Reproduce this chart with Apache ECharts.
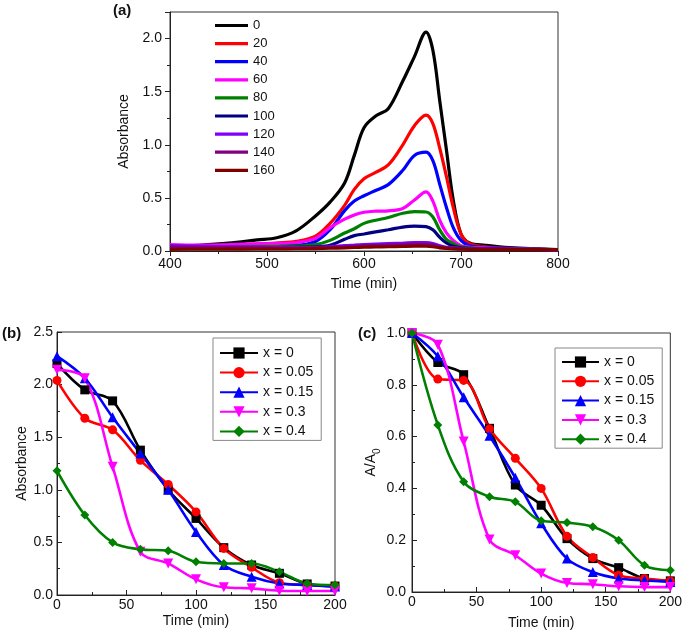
<!DOCTYPE html>
<html><head><meta charset="utf-8">
<script src="https://cdn.jsdelivr.net/npm/echarts@6/dist/echarts.min.js"></script>
<style>html,body{margin:0;padding:0;background:#fff}#c{width:685px;height:639px}</style>
</head><body><div id="c"></div>
<script>
// ---- Panel (a): spectra ----
var wavelengths = [400,430,460,490,510,530,550,565,580,590,600,612,625,640,652,664,671,678,685,692,700,709,725,750,800];
var specNames = ['0','20','40','60','80','100','120','140','160'];
var specColors = ['#000000','#ff0000','#0000ff','#ff00ff','#008000','#000080','#8000ff','#800080','#800000'];
var spec0   = [0.038,0.054,0.075,0.105,0.125,0.19,0.33,0.46,0.64,0.90,1.16,1.27,1.34,1.60,1.83,2.06,1.89,1.42,0.95,0.48,0.16,0.075,0.054,0.032,0.013];
var spec20  = [0.047,0.050,0.055,0.065,0.075,0.090,0.14,0.26,0.43,0.58,0.68,0.74,0.81,1.00,1.18,1.28,1.20,0.97,0.70,0.41,0.16,0.068,0.040,0.025,0.012];
var spec40  = [0.045,0.045,0.045,0.050,0.052,0.055,0.09,0.20,0.38,0.47,0.52,0.57,0.625,0.76,0.90,0.93,0.85,0.63,0.41,0.22,0.10,0.050,0.035,0.025,0.012];
var spec60  = [0.060,0.055,0.060,0.068,0.072,0.080,0.12,0.22,0.30,0.34,0.365,0.375,0.378,0.40,0.48,0.556,0.47,0.29,0.17,0.10,0.05,0.035,0.030,0.022,0.012];
var spec80  = [0.035,0.035,0.037,0.040,0.042,0.045,0.06,0.10,0.17,0.21,0.26,0.29,0.315,0.355,0.37,0.367,0.32,0.20,0.11,0.07,0.04,0.030,0.025,0.020,0.012];
var spec100 = [0.030,0.030,0.030,0.032,0.033,0.035,0.04,0.054,0.11,0.145,0.16,0.18,0.20,0.225,0.235,0.23,0.20,0.13,0.075,0.045,0.03,0.025,0.022,0.018,0.012];
var spec120 = [0.050,0.045,0.040,0.035,0.032,0.032,0.035,0.040,0.050,0.055,0.060,0.065,0.070,0.075,0.080,0.078,0.070,0.050,0.035,0.030,0.025,0.022,0.020,0.018,0.012];
var spec140 = [0.040,0.036,0.033,0.030,0.028,0.028,0.030,0.034,0.040,0.044,0.048,0.052,0.056,0.060,0.064,0.063,0.057,0.042,0.030,0.026,0.022,0.020,0.018,0.016,0.012];
var spec160 = [0.016,0.017,0.018,0.019,0.020,0.021,0.023,0.026,0.030,0.033,0.036,0.038,0.040,0.043,0.045,0.045,0.040,0.030,0.024,0.020,0.018,0.016,0.015,0.014,0.013];
var specData = [spec0,spec20,spec40,spec60,spec80,spec100,spec120,spec140,spec160];

// ---- Panels (b) and (c): kinetics ----
var times = [0,20,40,60,80,100,120,140,160,180,200];
var kinNames = ['x = 0','x = 0.05','x = 0.15','x = 0.3','x = 0.4'];
var kinColors = ['#000000','#ff0000','#0000ff','#ff00ff','#008000'];
var kinSymbols = ['rect','circle','triangle','path://M0,0 L10,0 L5,9 Z','diamond'];
var absX0   = [2.20,1.95,1.845,1.377,1.00,0.728,0.45,0.285,0.206,0.105,0.085];
var absX005 = [2.04,1.68,1.57,1.28,1.05,0.79,0.443,0.263,0.117,0.095,0.085];
var absX015 = [2.27,2.06,1.69,1.345,1.00,0.60,0.285,0.174,0.11,0.095,0.08];
var absX03  = [2.14,2.06,1.22,0.41,0.30,0.149,0.073,0.063,0.041,0.038,0.038];
var absX04  = [1.18,0.76,0.50,0.434,0.42,0.316,0.30,0.30,0.22,0.11,0.095];
var absData = [absX0,absX005,absX015,absX03,absX04];
var relX0   = [1.0,0.886,0.839,0.632,0.413,0.335,0.206,0.129,0.094,0.052,0.043];
var relX005 = [1.0,0.822,0.817,0.63,0.516,0.40,0.215,0.133,0.065,0.052,0.043];
var relX015 = [1.0,0.91,0.752,0.603,0.441,0.265,0.129,0.077,0.052,0.045,0.039];
var relX03  = [1.0,0.955,0.581,0.203,0.142,0.071,0.035,0.03,0.022,0.019,0.019];
var relX04  = [1.0,0.645,0.426,0.368,0.348,0.275,0.268,0.252,0.20,0.103,0.084];
var relData = [relX0,relX005,relX015,relX03,relX04];

var FONT = 'Arial, "Liberation Sans", sans-serif';
function pairs(xs, ys){ return xs.map(function(x,i){ return [x, ys[i]]; }); }
function fmt1(v){ return v.toFixed(1); }

var grids = [
  {left:170, top:12, width:388, height:239, show:true, borderColor:'#333', borderWidth:1},
  {left:57, top:332, width:278, height:263, show:true, borderColor:'#333', borderWidth:1},
  {left:412, top:333, width:261, height:259, show:true, borderColor:'#333', borderWidth:1}
];
function xAx(gi, min, max, interval, inside, name, gap, margin){
  return {type:'value', gridIndex:gi, min:min, max:max, interval:interval,
    name:name, nameLocation:'middle', nameGap:gap,
    nameTextStyle:{fontFamily:FONT, fontSize:14, color:'#111'},
    axisLine:{lineStyle:{color:'#222', width:1}},
    axisTick:{inside:inside, length:5, lineStyle:{color:'#222'}},
    minorTick:{show:true, splitNumber:2, length:3, lineStyle:{color:'#222'}},
    splitLine:{show:false},
    axisLabel:{fontFamily:FONT, fontSize:14, color:'#111', margin:margin}};
}
function yAx(gi, min, max, interval, inside, name, gap, margin, nts){
  return {type:'value', gridIndex:gi, min:min, max:max, interval:interval,
    name:name, nameLocation:'middle', nameGap:gap,
    nameTextStyle:nts || {fontFamily:FONT, fontSize:14, color:'#111'},
    axisLine:{show:true, lineStyle:{color:'#222', width:1}},
    axisTick:{show:true, inside:inside, length:5, lineStyle:{color:'#222'}},
    minorTick:{show:true, splitNumber:2, length:3, lineStyle:{color:'#222'}},
    splitLine:{show:false},
    axisLabel:{fontFamily:FONT, fontSize:14, color:'#111', margin:margin, formatter:fmt1, showMaxLabel: gi === 0 ? false : true}};
}

var series = [];
specNames.forEach(function(n,i){
  series.push({name:n, type:'line', xAxisIndex:0, yAxisIndex:0, data:pairs(wavelengths, specData[i]),
    smooth:0.35, symbol:'none', lineStyle:{color:specColors[i], width:3.2}, itemStyle:{color:specColors[i]}});
});
kinNames.forEach(function(n,i){
  series.push({name:n, type:'line', xAxisIndex:1, yAxisIndex:1, data:pairs(times, absData[i]),
    smooth:0.35, symbol:kinSymbols[i], symbolSize:(i===2||i===3)?10:9,
    lineStyle:{color:kinColors[i], width:2.6}, itemStyle:{color:kinColors[i]}});
});
kinNames.forEach(function(n,i){
  series.push({name:n, type:'line', xAxisIndex:2, yAxisIndex:2, data:pairs(times, relData[i]),
    smooth:0.35, symbol:kinSymbols[i], symbolSize:(i===2||i===3)?10:9,
    lineStyle:{color:kinColors[i], width:2.6}, itemStyle:{color:kinColors[i]}});
});

var subNameStyle = {fontFamily:FONT, fontSize:14, color:'#111', lineHeight:22,
  rich:{s:{fontFamily:FONT, fontSize:10, color:'#111', verticalAlign:'bottom', lineHeight:12}}};

var chart = echarts.init(document.getElementById('c'), null, {renderer:'canvas'});
chart.setOption({
  animation:false,
  backgroundColor:'#fff',
  title:[
    {text:'(a)', left:113, top:3, padding:0, textStyle:{fontFamily:FONT, fontSize:15, fontWeight:'bold', color:'#111'}},
    {text:'(b)', left:2, top:326, padding:0, textStyle:{fontFamily:FONT, fontSize:15, fontWeight:'bold', color:'#111'}},
    {text:'(c)', left:358, top:326, padding:0, textStyle:{fontFamily:FONT, fontSize:15, fontWeight:'bold', color:'#111'}}
  ],
  grid:grids,
  xAxis:[
    xAx(0, 400, 800, 100, false, 'Time (min)', 26, 6),
    xAx(1, 0, 200, 50, true, 'Time (min)', 19, 3),
    xAx(2, 0, 200, 50, true, 'Time (min)', 24, 3)
  ],
  yAxis:[
    yAx(0, 0, 2.25, 0.5, false, 'Absorbance', 35, 8, null),
    yAx(1, 0, 2.5, 0.5, true, 'Absorbance', 26, 4, null),
    yAx(2, 0, 1.0, 0.2, true, 'A/A{s|0}', 29, 6, subNameStyle)
  ],
  legend:[
    {data:specNames, orient:'vertical', left:215, top:19, padding:0, icon:'rect', itemWidth:33, itemHeight:3.2, itemGap:5.1,
      textStyle:{fontFamily:FONT, fontSize:13, color:'#111', lineHeight:13}},
    {data:kinNames.slice(), orient:'vertical', left:213, top:338, padding:[8,8,2,6],
      itemWidth:38, itemHeight:14, itemGap:5.6, borderColor:'#888', borderWidth:1,
      textStyle:{fontFamily:FONT, fontSize:14, color:'#111'}},
    {data:kinNames.slice(), orient:'vertical', left:555, top:348, padding:[7,8,2,6],
      itemWidth:37, itemHeight:14, itemGap:5.3, borderColor:'#888', borderWidth:1,
      textStyle:{fontFamily:FONT, fontSize:14, color:'#111'}}
  ],
  series:series
});
</script></body></html>
